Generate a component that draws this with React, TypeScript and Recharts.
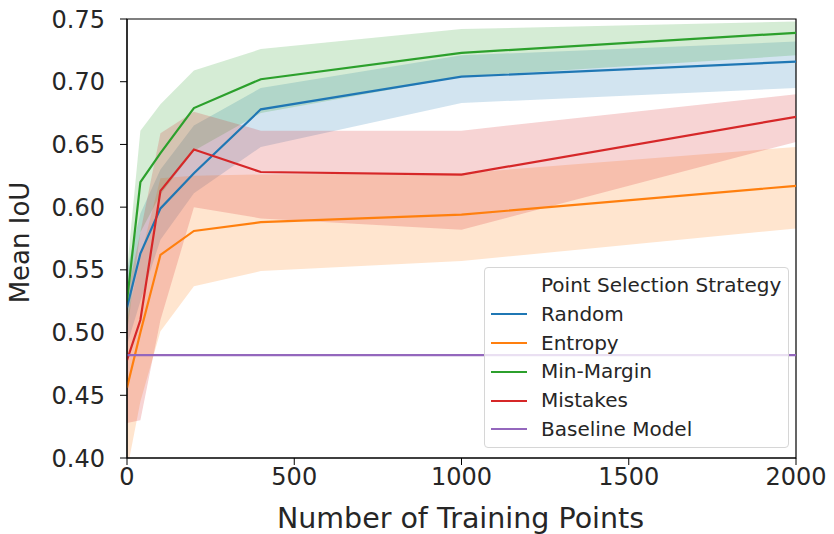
import React from 'react'
import {
  ComposedChart,
  Area,
  Line,
  XAxis,
  YAxis,
  ReferenceArea,
  Legend,
} from 'recharts'

// x positions (number of training points)
const trainingPoints = [0, 40, 100, 200, 400, 1000, 2000]

// Random
const randomMean = [0.52, 0.563, 0.599, 0.627, 0.678, 0.704, 0.716]
const randomLow = [0.49, 0.525, 0.574, 0.611, 0.648, 0.683, 0.695]
const randomHigh = [0.55, 0.595, 0.63, 0.665, 0.695, 0.721, 0.732]

// Entropy
const entropyMean = [0.456, 0.5, 0.562, 0.581, 0.588, 0.594, 0.617]
const entropyLow = [0.39, 0.445, 0.501, 0.537, 0.549, 0.557, 0.583]
const entropyHigh = [0.51, 0.56, 0.623, 0.625, 0.626, 0.627, 0.648]

// Min-Margin
const marginMean = [0.525, 0.62, 0.643, 0.679, 0.702, 0.723, 0.739]
const marginLow = [0.5, 0.58, 0.61, 0.645, 0.675, 0.704, 0.721]
const marginHigh = [0.55, 0.661, 0.682, 0.709, 0.726, 0.742, 0.748]

// Mistakes
const mistakesMean = [0.478, 0.51, 0.613, 0.646, 0.628, 0.626, 0.672]
const mistakesLow = [0.428, 0.43, 0.51, 0.6, 0.591, 0.582, 0.652]
const mistakesHigh = [0.53, 0.58, 0.659, 0.676, 0.661, 0.661, 0.69]

const baselineIoU = 0.482

const xTicks = [0, 500, 1000, 1500, 2000]
const yTicks = [0.4, 0.45, 0.5, 0.55, 0.6, 0.65, 0.7, 0.75]

const series = [
  { key: 'random', name: 'Random', color: '#1f77b4', mean: randomMean, low: randomLow, high: randomHigh },
  { key: 'entropy', name: 'Entropy', color: '#ff7f0e', mean: entropyMean, low: entropyLow, high: entropyHigh },
  { key: 'margin', name: 'Min-Margin', color: '#2ca02c', mean: marginMean, low: marginLow, high: marginHigh },
  { key: 'mistakes', name: 'Mistakes', color: '#d62728', mean: mistakesMean, low: mistakesLow, high: mistakesHigh },
]
const baselineColor = '#9467bd'

const data = trainingPoints.map((x, i) => {
  const row: any = { x, baseline: baselineIoU }
  series.forEach((s) => {
    row[s.key] = s.mean[i]
    row[s.key + 'Band'] = [s.low[i], s.high[i]]
  })
  return row
})

const font = "'DejaVu Sans', sans-serif"
const textColor = '#262626'
const tickStyle = { fontSize: 24, fill: textColor, fontFamily: font }

const LegendBox = () => (
  <div
    style={{
      position: 'absolute',
      left: 484,
      top: 267,
      width: 305,
      height: 181,
      boxSizing: 'border-box',
      border: '1px solid #d6d6d6',
      borderRadius: 4,
      background: 'rgba(255,255,255,0.8)',
      fontFamily: font,
      fontSize: 20,
      color: textColor,
      paddingTop: 3,
    }}
  >
    <div style={{ height: 28.8, lineHeight: '28.8px', paddingLeft: 56, whiteSpace: 'nowrap' }}>Point Selection Strategy</div>
    {[...series.map((s) => ({ name: s.name, color: s.color })), { name: 'Baseline Model', color: baselineColor }].map((e) => (
      <div key={e.name} style={{ height: 28.8, lineHeight: '28.8px', display: 'flex', alignItems: 'center' }}>
        <span style={{ display: 'inline-block', width: 36, height: 2, background: e.color, marginLeft: 6, marginRight: 14 }} />
        <span>{e.name}</span>
      </div>
    ))}
  </div>
)

export default function App() {
  return (
    <div style={{ position: 'absolute', left: 0, top: 0, width: 834, height: 534, background: '#fff' }}>
      <ComposedChart width={834} height={534} data={data} margin={{ top: 19, right: 38, bottom: 0, left: 0 }}>
        <XAxis
          dataKey="x"
          type="number"
          domain={[0, 2000]}
          ticks={xTicks}
          tick={tickStyle}
          tickSize={7}
          tickMargin={3}
          height={76}
          stroke="#000"
          allowDataOverflow
          label={{
            content: ({ viewBox }: any) => (
              <text
                x={viewBox.x + viewBox.width / 2 - 1}
                y={viewBox.y + 62}
                textAnchor="middle"
                dominantBaseline="middle"
                fontSize={28.5}
                fontFamily={font}
                fill={textColor}
              >
                Number of Training Points
              </text>
            ),
          }}
        />
        <YAxis
          type="number"
          domain={[0.4, 0.75]}
          ticks={yTicks}
          tick={tickStyle}
          tickFormatter={(v: number) => v.toFixed(2)}
          tickSize={7}
          tickMargin={15}
          width={127}
          stroke="#000"
          allowDataOverflow
          label={{
            content: ({ viewBox }: any) => (
              <text
                x={viewBox.x + 21}
                y={viewBox.y + viewBox.height / 2 + 4}
                textAnchor="middle"
                dominantBaseline="middle"
                fontSize={26}
                fontFamily={font}
                fill={textColor}
                transform={`rotate(-90 ${viewBox.x + 21} ${viewBox.y + viewBox.height / 2 + 4})`}
              >
                Mean IoU
              </text>
            ),
          }}
        />
        {series.map((s) => [
          <Area
            key={s.key + 'Band'}
            type="linear"
            dataKey={s.key + 'Band'}
            stroke="none"
            fill={s.color}
            fillOpacity={0.2}
            isAnimationActive={false}
            activeDot={false}
            legendType="none"
          />,
          <Line
            key={s.key}
            type="linear"
            dataKey={s.key}
            name={s.name}
            stroke={s.color}
            strokeWidth={2.2}
            dot={false}
            activeDot={false}
            isAnimationActive={false}
          />,
        ])}
        <Line
          type="linear"
          dataKey="baseline"
          name="Baseline Model"
          stroke={baselineColor}
          strokeWidth={2.2}
          dot={false}
          activeDot={false}
          isAnimationActive={false}
        />
        <ReferenceArea x1={0} x2={2000} y1={0.4} y2={0.75} fill="none" stroke="#000" strokeWidth={1.2} ifOverflow="visible" />
        <Legend content={() => null} />
      </ComposedChart>
      <LegendBox />
    </div>
  )
}
